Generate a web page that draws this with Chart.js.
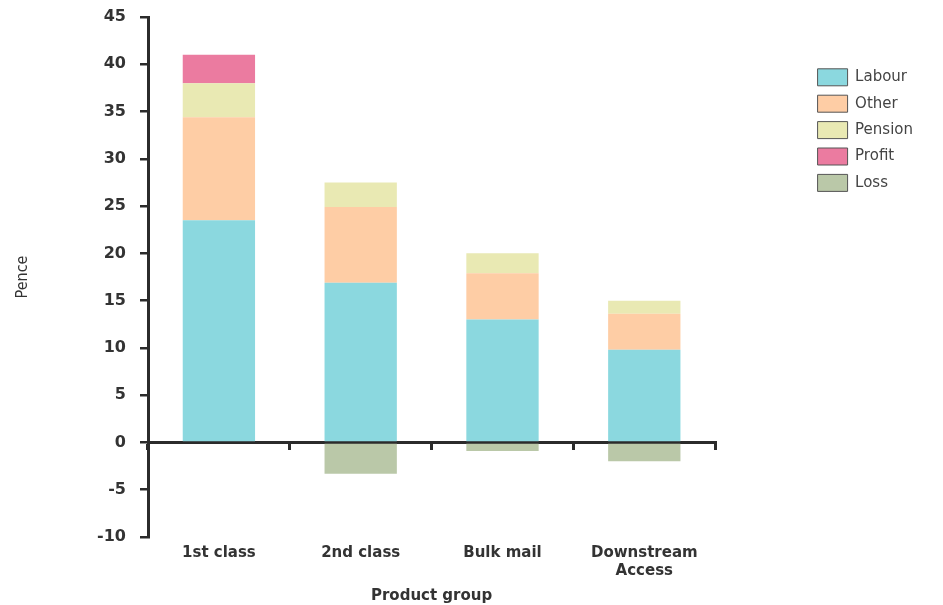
<!DOCTYPE html>
<html>
<head>
<meta charset="utf-8">
<script src="https://cdn.jsdelivr.net/npm/chart.js@4.4.1/dist/chart.umd.min.js"></script>
<style>
  html, body { margin: 0; padding: 0; background: #fff; }
  #wrap { width: 943px; height: 605px; }
</style>
</head>
<body>
<div id="wrap"><canvas id="cost-chart"></canvas></div>
<script>
// unit cost per item, pence
const productGroups = ["1st class", "2nd class", "Bulk mail", ["Downstream", "Access"]];
const labour = [23.5, 16.9, 13.0, 9.8];
const other = [10.9, 8.0, 4.9, 3.8];
const pension = [3.6, 2.6, 2.1, 1.4];
const profit = [3.0, null, null, null];
const loss = [null, -3.3, -0.9, -2.0];
const penceMin = -10;
const penceMax = 45;
const penceStep = 5;

const inkColor = "#2b2b2b";
const textColor = "#333333";

const costChartElement = document.getElementById("cost-chart");

function barSet(label, data, color) {
  return {
    label: label,
    data: data,
    backgroundColor: color,
    borderWidth: 0,
    stack: "cost",
    barPercentage: 0.51,
    categoryPercentage: 1.0,
  };
}

const costChart = new Chart(costChartElement, {
  type: "bar",
  data: {
    labels: productGroups,
    datasets: [
      barSet("Labour", labour, "#8bd8df"),
      barSet("Other", other, "#fecda5"),
      barSet("Pension", pension, "#e9e9b3"),
      barSet("Profit", profit, "#eb7ba0"),
      barSet("Loss", loss, "#bac8a8"),
    ],
  },
  options: {
    responsive: true,
    maintainAspectRatio: false,
    animation: false,
    layout: {
      padding: { top: 17, left: 5, right: 20, bottom: 0 },
    },
    plugins: {
      tooltip: { enabled: false },
      legend: {
        position: "right",
        align: "start",
        title: {
          display: true,
          text: "",
          font: { size: 12 },
          padding: { top: 28, bottom: 0 },
        },
        labels: {
          boxWidth: 30,
          boxHeight: 17,
          padding: 9.4,
          color: "#444444",
          font: { family: "'DejaVu Sans', sans-serif", size: 15 },
          generateLabels(chart) {
            const items = Chart.defaults.plugins.legend.labels.generateLabels(chart);
            items.forEach(item => {
              item.strokeStyle = "#555555";
              item.lineWidth = 1;
            });
            return items;
          },
        },
      },
    },
    scales: {
      x: {
        type: "category",
        position: "bottom",
        offset: true,
        grid: { display: false, drawTicks: false },
        border: { display: false },
        ticks: {
          color: textColor,
          padding: 7,
          maxRotation: 0,
          font: { family: "'DejaVu Sans', sans-serif", size: 15, weight: "bold" },
        },
        title: {
          display: true,
          text: "Product group",
          color: textColor,
          padding: { top: 0, bottom: 0 },
          font: { family: "'DejaVu Sans', sans-serif", size: 15, weight: "bold" },
        },
      },
      // baseline at zero with tick marks between the product groups
      xZero: {
        type: "category",
        axis: "x",
        position: { y: 0 },
        offset: true,
        grid: {
          offset: true,
          drawOnChartArea: false,
          drawTicks: true,
          tickLength: 6,
          lineWidth: 3,
          color: inkColor,
        },
        border: { display: true, color: inkColor, width: 3 },
        ticks: { display: false },
      },
      y: {
        type: "linear",
        position: "left",
        min: penceMin,
        max: penceMax,
        stacked: true,
        afterFit(scale) {
          scale.width = 143;
          scale.paddingTop = 8;
        },
        grid: {
          drawOnChartArea: false,
          drawTicks: true,
          tickLength: 8,
          lineWidth: 2.5,
          color: inkColor,
        },
        border: { display: true, color: inkColor, width: 3 },
        ticks: {
          stepSize: penceStep,
          padding: 14,
          color: textColor,
          font: { family: "'DejaVu Sans', sans-serif", size: 16, weight: "bold" },
        },
        title: {
          display: true,
          text: "Pence",
          color: textColor,
          padding: { top: 8, bottom: 0 },
          font: { family: "'Liberation Sans Narrow', 'DejaVu Sans Condensed', sans-serif", size: 16 },
        },
      },
      // empty space between the plot and the legend
      legendGap: {
        type: "linear",
        position: "right",
        display: true,
        grid: { display: false },
        border: { display: false },
        ticks: { display: false },
        afterFit(scale) {
          scale.width = 93;
        },
      },
    },
  },
});
</script>
</body>
</html>
